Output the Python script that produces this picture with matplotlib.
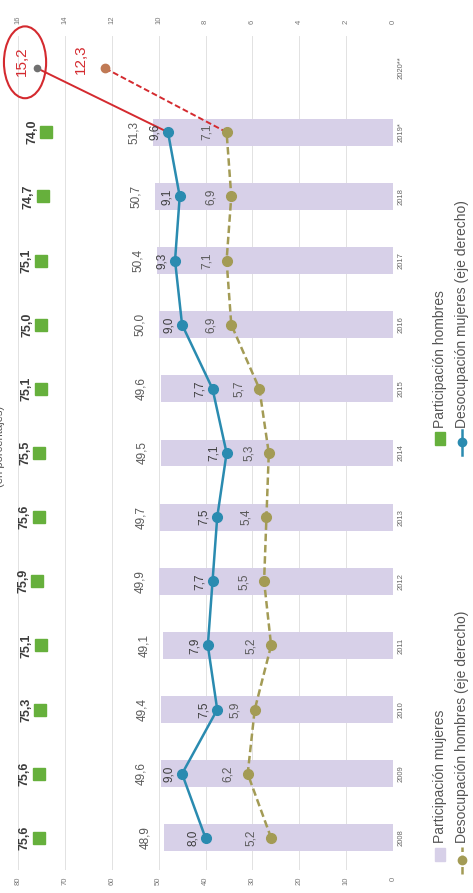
import numpy as np
import matplotlib.pyplot as plt
from matplotlib.patches import Ellipse, Rectangle
from matplotlib.lines import Line2D

plt.rcParams['font.family'] = ['Liberation Sans', 'DejaVu Sans']

# Data
years = ['2008', '2009', '2010', '2011', '2012', '2013', '2014', '2015',
         '2016', '2017', '2018', '2019*', '2020**']
part_mujeres = [48.9, 49.6, 49.4, 49.1, 49.9, 49.7, 49.5, 49.6, 50.0, 50.4, 50.7, 51.3]
part_hombres = [75.6, 75.6, 75.3, 75.1, 75.9, 75.6, 75.5, 75.1, 75.0, 75.1, 74.7, 74.0]
des_mujeres = [8.0, 9.0, 7.5, 7.9, 7.7, 7.5, 7.1, 7.7, 9.0, 9.3, 9.1, 9.6]
des_hombres = [5.2, 6.2, 5.9, 5.2, 5.5, 5.4, 5.3, 5.7, 6.9, 7.1, 6.9, 7.1]
des_mujeres_2020 = 15.2
des_hombres_2020 = 12.3

fmt = lambda v: f"{v:.1f}".replace('.', ',')
PX = 0.72  # points per pixel at dpi 100

c_bar = '#d7d0e8'
c_green = '#66b03c'
c_blue = '#2a8bb0'
c_olive = '#a39b55'
c_red = '#d42a2f'

fig = plt.figure(figsize=(4.73, 8.93), dpi=100)
ax = fig.add_axes([18 / 473, 23 / 893, 375 / 473, 834 / 893])
ax2 = ax.twiny()

pos = np.arange(len(years))
n = len(part_mujeres)

# Participation (left axis, shown at the bottom since the chart is turned)
ax.barh(pos[:n], part_mujeres, height=0.42, color=c_bar, zorder=1)
ax.plot(part_hombres, pos[:n], 's', color=c_green, ms=8, zorder=3)

for p, v in zip(pos[:n], part_mujeres):
    ax.annotate(fmt(v), (v, p), xytext=(-19 * PX, 0), textcoords='offset points',
                rotation=90, ha='center', va='center', fontsize=8.5, color='#5a5a5a')
for p, v in zip(pos[:n], part_hombres):
    ax.annotate(fmt(v), (v, p), xytext=(-14 * PX, 0), textcoords='offset points',
                rotation=90, ha='center', va='center', fontsize=9, color='#3c3c3c',
                fontweight='bold', zorder=4)

ax.set_xlim(80, 0)
ax.set_ylim(-0.5, 12.5)
ax.set_xticks(np.arange(0, 81, 10))
ax.set_yticks(pos)
ax.set_yticklabels(years)
ax.yaxis.tick_right()
ax.tick_params(axis='x', length=0, pad=5, labelsize=5.5, labelcolor='#777777', labelrotation=90)
ax.tick_params(axis='y', length=0, pad=3, labelsize=5.5, labelcolor='#666666', labelrotation=90)
for lab in ax.get_yticklabels():
    lab.set_va('center')
ax.grid(axis='x', color='#e2e2e2', lw=0.7)
ax.set_axisbelow(True)
for s in ax.spines.values():
    s.set_visible(False)

# Unemployment (right axis, shown at the top)
ax2.plot(des_mujeres, pos[:n], '-o', color=c_blue, lw=1.8, ms=7, zorder=3)
ax2.plot(des_hombres, pos[:n], '--o', color=c_olive, lw=1.8, ms=7, dashes=(3, 1.5), zorder=3)
ax2.plot([des_mujeres[-1], des_mujeres_2020], pos[n - 1:], '-', color=c_red, lw=1.4, zorder=2)
ax2.plot([des_hombres[-1], des_hombres_2020], pos[n - 1:], '--', color=c_red, lw=1.4,
         dashes=(3, 1.5), zorder=2)
ax2.plot(des_mujeres_2020, pos[-1], 'o', color='#707070', ms=4.5, zorder=4)
ax2.plot(des_hombres_2020, pos[-1], 'o', color='#c07a55', ms=6, zorder=4)

for p, v in zip(pos[:n], des_mujeres):
    ax2.annotate(fmt(v), (v, p), xytext=(-13 * PX, 0), textcoords='offset points',
                 rotation=90, ha='center', va='center', fontsize=8.5, color='#3c3c3c')
for p, v in zip(pos[:n], des_hombres):
    ax2.annotate(fmt(v), (v, p), xytext=(-20 * PX, 0), textcoords='offset points',
                 rotation=90, ha='center', va='center', fontsize=8.5, color='#5a5a5a')

ax2.annotate(fmt(des_mujeres_2020), (des_mujeres_2020, pos[-1]), xytext=(-15 * PX, 7 * PX),
             textcoords='offset points', rotation=90, ha='center', va='center',
             fontsize=11, color=c_red)
ax2.annotate(fmt(des_hombres_2020), (des_hombres_2020, pos[-1]), xytext=(-24 * PX, 9 * PX),
             textcoords='offset points', rotation=90, ha='center', va='center',
             fontsize=11, color=c_red)
ax2.add_patch(Ellipse((des_mujeres_2020 + 0.5, pos[-1] + 0.09), 1.8, 1.12,
                      fill=False, edgecolor=c_red, lw=1.5, clip_on=False, zorder=5))

ax2.set_xlim(16, 0)
ax2.set_xticks(np.arange(0, 17, 2))
ax2.tick_params(axis='x', length=0, pad=9, labelsize=5.5, labelcolor='#777777', labelrotation=90)
for s in ax2.spines.values():
    s.set_visible(False)

# Subtitle, mostly cut off at the edge as in the source
fig.text(0.0, 0.5, '(en porcentajes)', rotation=90, ha='center', va='center',
         fontsize=8, color='#555555')

# Legend, drawn by hand in pixel coordinates
lax = fig.add_axes([0, 0, 1, 1])
lax.set_xlim(0, 473)
lax.set_ylim(893, 0)
lax.axis('off')
lax.add_patch(Rectangle((435, 848), 10, 13, color=c_bar))
lax.text(440, 843, 'Participación mujeres', rotation=90, ha='center', va='bottom',
         fontsize=10, color='#555555')
lax.add_patch(Rectangle((435, 432), 10, 13, color=c_green))
lax.text(440, 428, 'Participación hombres', rotation=90, ha='center', va='bottom',
         fontsize=10, color='#555555')
lax.add_line(Line2D([462, 462], [874, 847], color=c_olive, lw=1.8, ls='--', dashes=(3, 1.5)))
lax.plot(462, 860, 'o', color=c_olive, ms=6)
lax.text(462, 843, 'Desocupación hombres (eje derecho)', rotation=90, ha='center',
         va='bottom', fontsize=10, color='#555555')
lax.add_line(Line2D([462, 462], [455, 430], color=c_blue, lw=1.8))
lax.plot(462, 442, 'o', color=c_blue, ms=6)
lax.text(462, 428, 'Desocupación mujeres (eje derecho)', rotation=90, ha='center',
         va='bottom', fontsize=10, color='#555555')

fig.savefig('out.png', dpi=100)
